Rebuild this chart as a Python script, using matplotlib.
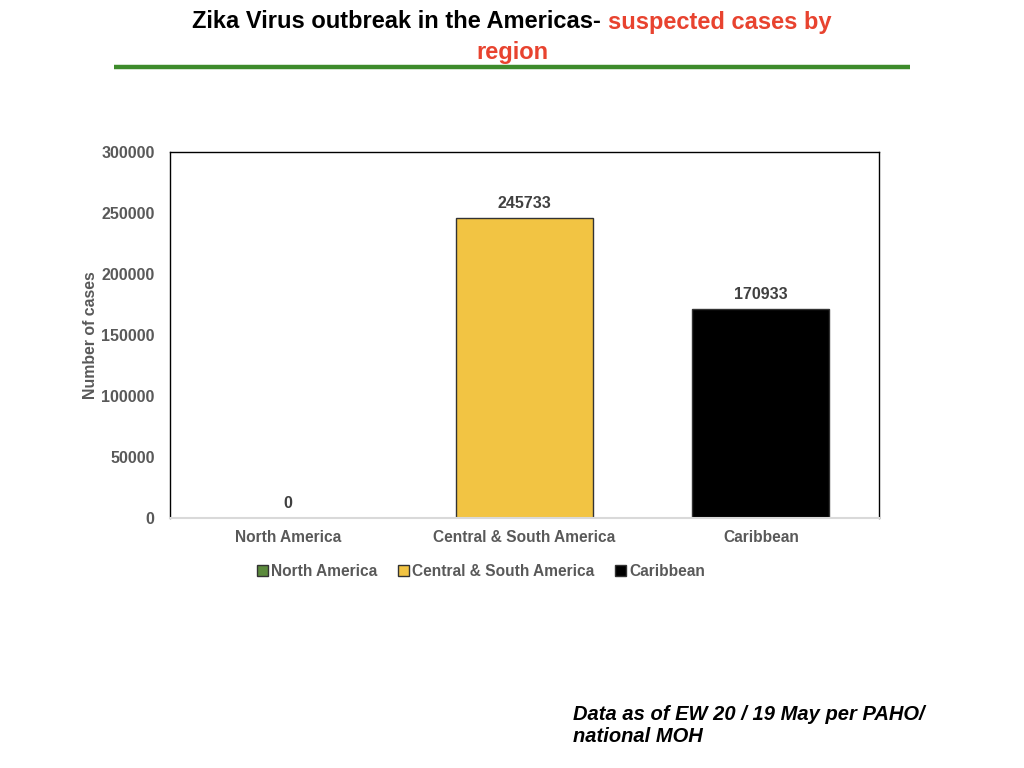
import matplotlib
matplotlib.use("Agg")
import matplotlib.pyplot as plt
from matplotlib.patches import Patch
from matplotlib.lines import Line2D

categories = ["North America", "Central & South America", "Caribbean"]
values = [0, 245733, 170933]
colors = ["#5b8a3c", "#f2c443", "#000000"]
yticks = [0, 50000, 100000, 150000, 200000, 250000, 300000]

plt.rcParams['font.family'] = ['Liberation Sans', 'DejaVu Sans']

W, H = 1024, 768
fig = plt.figure(figsize=(W/100, H/100), dpi=100)

ax = fig.add_axes([170/W, 1-518/H, (879-170)/W, (518-152)/H])
x = range(len(categories))
bars = ax.bar(x, values, width=0.58, color=colors, edgecolor="#333333", linewidth=1)
ax.set_xlim(-0.5, 2.5)
ax.set_ylim(0, 300000)
ax.set_yticks(yticks)
ax.set_yticklabels([str(v) for v in yticks], fontsize=11.5, fontweight='bold', color='#595959')
ax.set_xticks(list(x))
ax.set_xticklabels(categories, fontsize=11.2, fontweight='bold', color='#595959')
ax.tick_params(axis='y', length=0, pad=11)
ax.tick_params(axis='x', length=0, pad=9)
for s in ['left', 'top', 'right']:
    ax.spines[s].set_color('black')
    ax.spines[s].set_linewidth(1)
ax.spines['bottom'].set_color('#d9d9d9')
ax.spines['bottom'].set_linewidth(1.5)
ax.set_ylabel("Number of cases", fontsize=11.4, fontweight='bold', color='#595959', labelpad=2)

for xi, v in zip(x, values):
    ax.annotate(str(v), (xi, v), xytext=(0, 15), textcoords='offset pixels',
                ha='center', va='center', fontsize=11.5, fontweight='bold', color='#404040')

handles = [Patch(facecolor=c, edgecolor='#333333', linewidth=1) for c in colors]
leg = fig.legend(handles, categories, loc='center', bbox_to_anchor=(481/W, 1-571/H),
                 ncol=3, frameon=False, handlelength=0.7, handleheight=0.7,
                 handletextpad=0.2, columnspacing=1.35,
                 prop={'size': 11.2, 'weight': 'bold'})
for t in leg.get_texts():
    t.set_color('#595959')

# Title in two colours
fig.canvas.draw()
r = fig.canvas.get_renderer()
t1 = fig.text(0, 1-22/H, "Zika Virus outbreak in the Americas- ", fontsize=17,
              fontweight='bold', color='black', va='center', ha='left')
t2 = fig.text(0, 1-22/H, "suspected cases by", fontsize=17,
              fontweight='bold', color='#e8432f', va='center', ha='left')
w1 = t1.get_window_extent(r).width
w2 = t2.get_window_extent(r).width
start = (W - (w1 + w2)) / 2
t1.set_x(start / W)
t2.set_x((start + w1) / W)
fig.text(0.5, 1-52/H, "region", fontsize=17, fontweight='bold', color='#e8432f',
         va='center', ha='center')

fig.add_artist(Line2D([114/W, 910/W], [1-67/H, 1-67/H], color='#3d8b2b', linewidth=3.2,
                      solid_capstyle='butt'))

fig.text(573/W, 1-714/H, "Data as of EW 20 / 19 May per PAHO/", fontsize=14.5,
         fontweight='bold', style='italic', color='black', va='center', ha='left')
fig.text(573/W, 1-737/H, "national MOH", fontsize=14.5,
         fontweight='bold', style='italic', color='black', va='center', ha='left')

fig.savefig("out.png", dpi=100, facecolor='white')
